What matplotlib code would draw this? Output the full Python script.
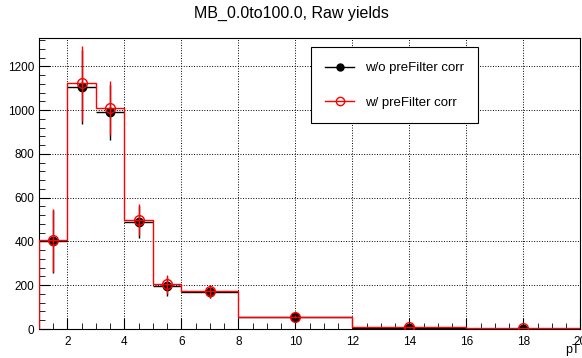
import numpy as np
import matplotlib.pyplot as plt
from matplotlib.ticker import MultipleLocator

plt.rcParams['font.family'] = ['Liberation Sans', 'DejaVu Sans']

# pT bin edges and yields
edges = [1, 2, 3, 4, 5, 6, 8, 12, 16, 20]
raw_wo = [400, 1105, 990, 490, 195, 170, 55, 5, 2]
err_wo = [143, 170, 125, 72, 43, 30, 8, 3, 2]
raw_w = [405, 1122, 1010, 500, 205, 172, 57, 8, 3]
err_w = [143, 170, 125, 72, 43, 30, 8, 3, 2]

edges = np.array(edges, dtype=float)
centers = 0.5 * (edges[1:] + edges[:-1])
halfw = 0.5 * (edges[1:] - edges[:-1])

fig = plt.figure(figsize=(5.82, 3.58), dpi=100)
ax = fig.add_axes([0.067, 0.081, 0.930, 0.813])

# black: w/o preFilter correction (points with bin-width bars)
ax.errorbar(centers, raw_wo, xerr=halfw, yerr=err_wo, fmt='o', color='black',
            ms=6, elinewidth=1, capsize=0, zorder=3)

# red: w/ preFilter correction (hist outline + points)
ax.stairs(raw_w, edges, color='red', lw=1, zorder=4)
ax.errorbar(centers, raw_w, yerr=err_w, fmt='o', color='red', mfc='none',
            ms=7, mew=1, elinewidth=1, capsize=0, zorder=5)

ax.set_xlim(1, 20)
ax.set_ylim(0, 1330)
ax.xaxis.set_major_locator(MultipleLocator(2))
ax.xaxis.set_minor_locator(MultipleLocator(0.5))
ax.yaxis.set_major_locator(MultipleLocator(200))
ax.yaxis.set_minor_locator(MultipleLocator(40))
ax.tick_params(which='both', direction='in', labelsize=8.5)
ax.tick_params(which='major', length=8)
ax.tick_params(which='minor', length=4)
ax.tick_params(axis='x', pad=5)
ax.grid(True, which='major', color='black', ls=':', lw=0.7)
ax.set_axisbelow(True)

ax.text(1.0, -0.05, 'pT', transform=ax.transAxes, ha='right', va='top', fontsize=9)
fig.suptitle('MB_0.0to100.0, Raw yields', y=0.985, fontsize=11.5)

l1, = ax.plot([], [], color='black', marker='o', ms=5, lw=1)
l2, = ax.plot([], [], color='red', marker='o', mfc='none', ms=6, lw=1)
leg = ax.legend([l1, l2], ['w/o preFilter corr', 'w/ preFilter corr'],
                loc='upper left', bbox_to_anchor=(0.49, 0.99), fontsize=9.5,
                fancybox=False, framealpha=1, edgecolor='black',
                borderpad=1.1, labelspacing=1.7, handlelength=2.2)
leg.get_frame().set_linewidth(0.8)

fig.savefig('out.png', dpi=100)
